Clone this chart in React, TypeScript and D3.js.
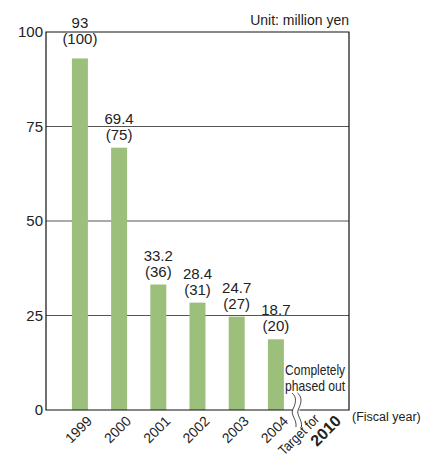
import React, { useEffect, useRef } from 'react';
import * as d3 from 'd3';

const years = ['1999', '2000', '2001', '2002', '2003', '2004'];
const amounts = [93, 69.4, 33.2, 28.4, 24.7, 18.7];
const indexValues = [100, 75, 36, 31, 27, 20];
const yTicks = [0, 25, 50, 75, 100];
const targetYear = '2010';

const FONT = '"Liberation Sans", Arial, Helvetica, sans-serif';

export default function App() {
    const svgRef = useRef<SVGSVGElement>(null);

    useEffect(() => {
        if (!svgRef.current) return;
        const width = 430;
        const height = 457;
        const margin = { top: 32, right: 81, bottom: 47, left: 46 };

        const svg = d3.select(svgRef.current)
            .attr('width', width)
            .attr('height', height)
            .attr('viewBox', `0 0 ${width} ${height}`);
        svg.selectAll('*').remove();

        const x = d3.scaleBand<string>()
            .domain([...years, targetYear])
            .range([margin.left, width - margin.right])
            .paddingInner(0.592)
            .paddingOuter(0.661);

        const y = d3.scaleLinear()
            .domain([0, 100])
            .range([height - margin.bottom, margin.top]);

        const x0 = margin.left;
        const x1 = width - margin.right;

        // gridlines
        svg.append('g')
            .selectAll('line')
            .data(yTicks.filter(t => t > 0 && t < 100))
            .enter()
            .append('line')
            .attr('x1', x0).attr('x2', x1)
            .attr('y1', d => y(d)).attr('y2', d => y(d))
            .attr('stroke', '#555')
            .attr('stroke-width', 1.2);

        // bars
        svg.append('g')
            .selectAll('rect')
            .data(amounts)
            .enter()
            .append('rect')
            .attr('x', (d, i) => x(years[i])!)
            .attr('y', d => y(d))
            .attr('width', x.bandwidth())
            .attr('height', d => y(0) - y(d))
            .attr('fill', '#9cbf7b');

        // frame
        svg.append('path')
            .attr('d', `M${x0},${y(0)} L${x0},${y(100)} L${x1},${y(100)} L${x1},${y(0)} Z`)
            .attr('fill', 'none')
            .attr('stroke', '#111')
            .attr('stroke-width', 1.2);

        // y tick labels
        svg.append('g')
            .selectAll('text')
            .data(yTicks)
            .enter()
            .append('text')
            .attr('x', x0 - 3)
            .attr('y', d => y(d))
            .attr('dy', '0.36em')
            .attr('text-anchor', 'end')
            .attr('font-family', FONT)
            .attr('font-size', 15)
            .attr('fill', '#222')
            .text(d => d);

        // value labels: the top one straddles the frame line
        const labelBase = (v: number) => {
            const base = y(v) - 8;
            return base - 26 < y(100) ? y(100) + 12 : base;
        };
        const labels = svg.append('g')
            .attr('font-family', FONT)
            .attr('font-size', 15)
            .attr('fill', '#222')
            .attr('text-anchor', 'middle');
        labels.selectAll('text.val')
            .data(amounts)
            .enter()
            .append('text')
            .attr('class', 'val')
            .attr('x', (d, i) => x(years[i])! + x.bandwidth() / 2)
            .attr('y', d => labelBase(d) - 16)
            .text(d => d);
        labels.selectAll('text.idx')
            .data(indexValues)
            .enter()
            .append('text')
            .attr('class', 'idx')
            .attr('x', (d, i) => x(years[i])! + x.bandwidth() / 2)
            .attr('y', (d, i) => labelBase(amounts[i]))
            .text(d => `(${d})`);

        // x tick labels
        svg.append('g')
            .selectAll('text')
            .data(years)
            .enter()
            .append('text')
            .attr('transform', d => `translate(${x(d)! + x.bandwidth() / 2 + 13},${y(0) + 12}) rotate(-45)`)
            .attr('text-anchor', 'end')
            .attr('font-family', FONT)
            .attr('font-size', 14)
            .attr('fill', '#222')
            .text(d => d);

        const tc = x(targetYear)! + x.bandwidth() / 2;
        svg.append('text')
            .attr('transform', `translate(${tc + 5},${y(0) + 10}) rotate(-45)`)
            .attr('text-anchor', 'end')
            .attr('font-family', FONT)
            .attr('font-size', 14)
            .attr('textLength', 51)
            .attr('lengthAdjust', 'spacingAndGlyphs')
            .attr('fill', '#222')
            .text('Target for');
        svg.append('text')
            .attr('transform', `translate(${tc + 27},${y(0) + 12}) rotate(-45)`)
            .attr('text-anchor', 'end')
            .attr('font-family', FONT)
            .attr('font-weight', 'bold')
            .attr('font-size', 16)
            .attr('fill', '#222')
            .text(targetYear);

        // completely phased out note
        const noteLines = ['Completely', 'phased out'];
        svg.append('g')
            .selectAll('text')
            .data(noteLines)
            .enter()
            .append('text')
            .attr('x', tc - 30)
            .attr('y', (d, i) => y(0) - 35 + i * 16)
            .attr('font-family', FONT)
            .attr('font-size', 15)
            .attr('textLength', 60)
            .attr('lengthAdjust', 'spacingAndGlyphs')
            .attr('fill', '#222')
            .text(d => d);

        // axis break
        const bx = (x(years[years.length - 1])! + x(targetYear)!) / 2 + x.bandwidth() / 2;
        svg.append('rect')
            .attr('x', bx - 3).attr('y', y(0) - 2)
            .attr('width', 7).attr('height', 4)
            .attr('fill', 'white');
        [-2.5, 3].forEach(off => {
            const cx = bx + off;
            const t = y(0) - 17;
            svg.append('path')
                .attr('d', `M${cx - 1},${t} C${cx + 4},${t + 4} ${cx + 3},${t + 10} ${cx},${t + 16} ` +
                    `C${cx - 3},${t + 22} ${cx + 4},${t + 26} ${cx + 3},${t + 34}`)
                .attr('fill', 'none')
                .attr('stroke', '#333')
                .attr('stroke-width', 0.9);
        });

        // unit and axis caption
        svg.append('text')
            .attr('x', x1)
            .attr('y', 25)
            .attr('text-anchor', 'end')
            .attr('font-family', FONT)
            .attr('font-size', 14)
            .attr('fill', '#222')
            .text('Unit: million yen');
        svg.append('text')
            .attr('x', x1 + 3)
            .attr('y', y(0) + 11)
            .attr('font-family', FONT)
            .attr('font-size', 12.5)
            .attr('fill', '#222')
            .text('(Fiscal year)');
    }, []);

    return (
        <svg ref={svgRef} style={{ position: 'absolute', left: 0, top: 0, background: 'white' }} />
    );
}
